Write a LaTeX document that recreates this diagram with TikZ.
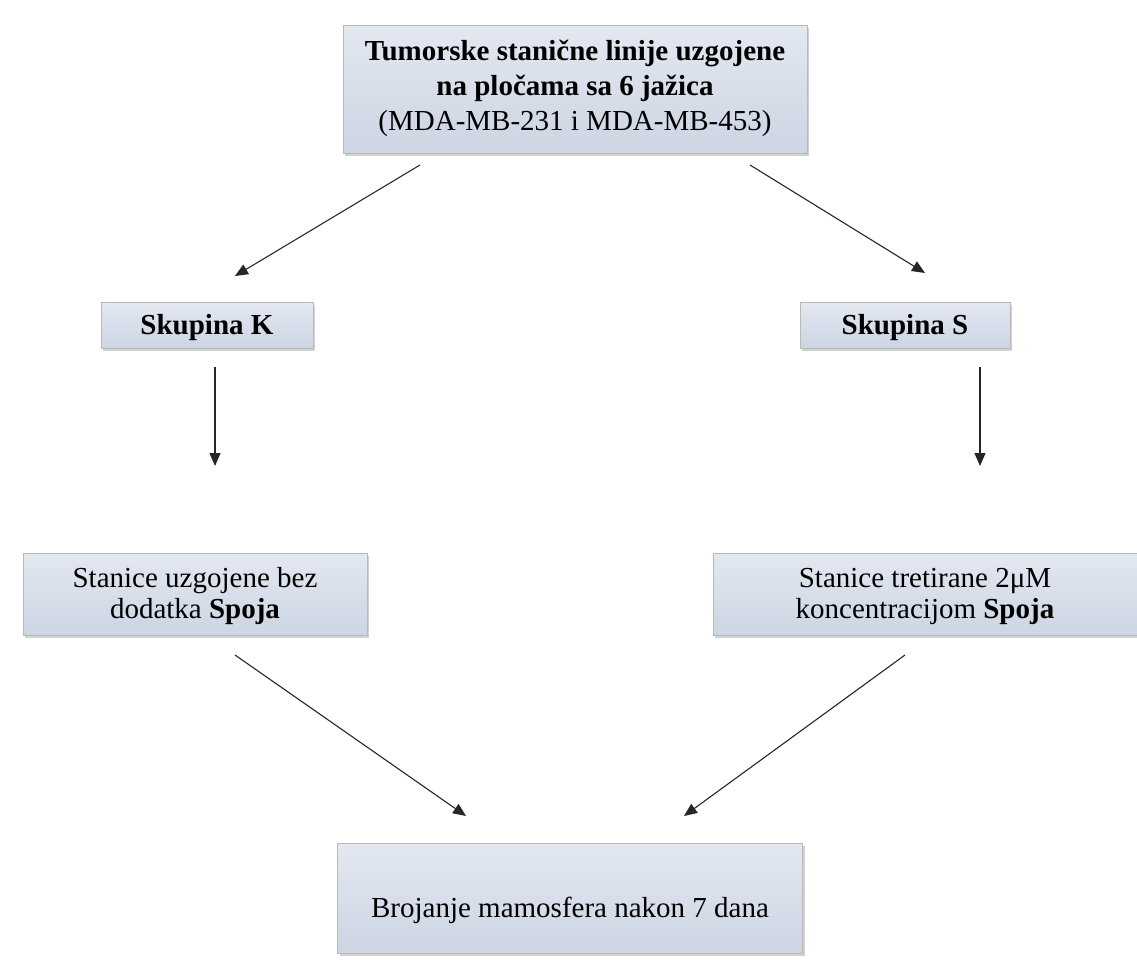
\documentclass[tikz,border=0pt]{standalone}
\usepackage{fontspec}
\setmainfont{Liberation Serif}
\usetikzlibrary{arrows.meta,shadows}
\newcommand{\fixline}[2]{\rule[-#2pt]{0pt}{\dimexpr #1pt + #2pt\relax}}
\begin{document}
\begin{tikzpicture}[x=1pt,y=-1pt,
  box/.style={draw=gray!55, line width=0.6pt, top color=boxtop, bottom color=boxbot,
    drop shadow={shadow xshift=2pt, shadow yshift=-3pt, opacity=0.35, fill=gray},
    align=center, inner sep=0pt, text=black},
  arr/.style={-{Triangle[length=13pt,width=11pt]}, line width=1.1pt, draw=black!85}]
\definecolor{boxtop}{HTML}{E3E8F1}
\definecolor{boxbot}{HTML}{CDD5E3}
\useasboundingbox (0,0) rectangle (1137,961);
\fill[white] (0,0) rectangle (1137,961);
\node[box, minimum width=464pt, minimum height=128pt, font=\fontsize{29}{35}\selectfont] (top) at (575,89)
  {\fixline{22}{0}\textbf{Tumorske stanične linije uzgojene}\\ \textbf{na pločama sa 6 jažica}\\\fixline{0}{10}(MDA-MB-231 i MDA-MB-453)};
\node[box, minimum width=212pt, minimum height=46pt, font=\fontsize{29}{32}\selectfont\bfseries] (k) at (207,325) {\fixline{26}{6}Skupina K};
\node[box, minimum width=210pt, minimum height=46pt, font=\fontsize{29}{32}\selectfont\bfseries] (s) at (905,325) {\fixline{26}{6}Skupina S};
\node[box, minimum width=344pt, minimum height=82pt, font=\fontsize{29}{31}\selectfont] (l) at (195,594)
  {\fixline{24}{0}Stanice uzgojene bez\\\fixline{0}{7}dodatka \textbf{Spoja}};
\node[box, minimum width=424pt, minimum height=82pt, font=\fontsize{29}{31}\selectfont] (r) at (925,594)
  {\fixline{24}{0}Stanice tretirane 2μM\\\fixline{0}{7}koncentracijom \textbf{Spoja}};
\node[box, minimum width=465pt, minimum height=110pt, font=\fontsize{29}{32}\selectfont] (b) at (570,898)
  {\fixline{45}{7}Brojanje mamosfera nakon 7 dana};
\coordinate (t1) at (420,165);
\coordinate (k1) at (235,276);
\coordinate (t2) at (750,165);
\coordinate (s1) at (925,273);
\coordinate (k2) at (215,367);
\coordinate (l1) at (215,466);
\coordinate (s2) at (980,367);
\coordinate (r1) at (980,466);
\coordinate (l2) at (235,655);
\coordinate (b1) at (466,816);
\coordinate (r2) at (905,655);
\coordinate (b2) at (684,816);
\draw[arr] (t1) -- (k1);
\draw[arr] (t2) -- (s1);
\draw[arr] (k2) -- (l1);
\draw[arr] (s2) -- (r1);
\draw[arr] (l2) -- (b1);
\draw[arr] (r2) -- (b2);
\end{tikzpicture}
\end{document}
